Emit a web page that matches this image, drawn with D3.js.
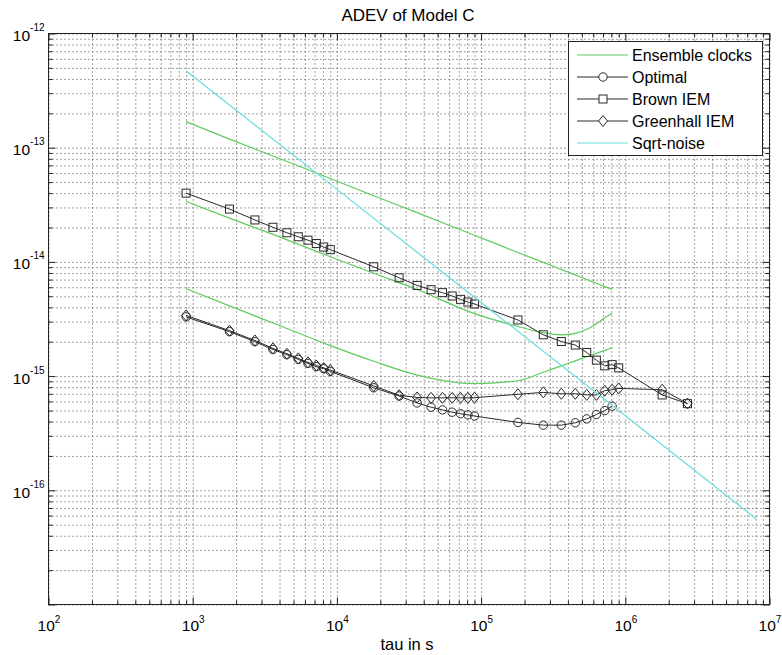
<!DOCTYPE html>
<html><head><meta charset="utf-8">
<script src="https://cdn.jsdelivr.net/npm/d3@7"></script>
<style>
body{margin:0;background:#fff}
text{font-family:"Liberation Sans",Arial,Helvetica,sans-serif;fill:#000}
</style>
</head><body>
<svg id="chart" width="782" height="655"></svg>
<script>
// ---------------- data ----------------
const tauIEM = [900,1800,2700,3600,4500,5400,6300,7200,8100,9000,
  18000,27000,36000,45000,54000,63000,72000,81000,90000,
  180000,270000,360000,450000,540000,630000,720000,810000,900000,1800000,2700000];
const brownIEM = [4.0e-14,2.9e-14,2.33e-14,2.01e-14,1.80e-14,1.66e-14,1.55e-14,1.45e-14,1.35e-14,1.28e-14,
  9.06e-15,7.26e-15,6.22e-15,5.71e-15,5.38e-15,5.03e-15,4.70e-15,4.45e-15,4.28e-15,
  3.10e-15,2.30e-15,2.01e-15,1.87e-15,1.61e-15,1.38e-15,1.23e-15,1.26e-15,1.18e-15,6.84e-16,5.74e-16];
const greenhallIEM = [3.4e-15,2.5e-15,2.05e-15,1.75e-15,1.57e-15,1.43e-15,1.32e-15,1.24e-15,1.18e-15,1.13e-15,
  8.2e-16,6.8e-16,6.5e-16,6.45e-16,6.45e-16,6.45e-16,6.45e-16,6.45e-16,6.47e-16,
  6.93e-16,7.2e-16,7.0e-16,7.0e-16,6.85e-16,6.85e-16,7.45e-16,7.6e-16,7.8e-16,7.6e-16,5.75e-16];
const tauOptimal = [900,1800,2700,3600,4500,5400,6300,7200,8100,9000,
  18000,27000,36000,45000,54000,63000,72000,81000,90000,
  180000,270000,360000,450000,540000,630000,720000,810000];
const optimal = [3.3e-15,2.45e-15,2.0e-15,1.71e-15,1.54e-15,1.40e-15,1.29e-15,1.21e-15,1.16e-15,1.10e-15,
  7.9e-16,6.7e-16,5.82e-16,5.34e-16,5.06e-16,4.83e-16,4.68e-16,4.58e-16,4.47e-16,
  3.93e-16,3.72e-16,3.72e-16,3.90e-16,4.22e-16,4.61e-16,4.99e-16,5.45e-16];
const tauEnsemble = [900,1800,3600,9000,18000,36000,90000,180000,270000,360000,450000,540000,630000,720000,810000];
const ensembleClock1 = [1.69e-13,1.19e-13,8.47e-14,5.37e-14,3.80e-14,2.70e-14,1.71e-14,1.21e-14,9.9e-15,8.59e-15,7.69e-15,7.02e-15,6.50e-15,6.08e-15,5.74e-15];
const ensembleClock2 = [3.38e-14,2.42e-14,1.74e-14,1.11e-14,7.96e-15,5.73e-15,3.52e-15,2.72e-15,2.40e-15,2.30e-15,2.37e-15,2.57e-15,2.88e-15,3.24e-15,3.55e-15];
const ensembleClock3 = [5.82e-15,4.12e-15,2.92e-15,1.85e-15,1.35e-15,1.02e-15,8.6e-16,9.1e-16,1.08e-15,1.23e-15,1.36e-15,1.48e-15,1.58e-15,1.68e-15,1.78e-15];
const tauSqrt = [900,9000,90000,900000,8100000];
const sqrtNoise = [4.7e-13,4.8e-14,4.9e-15,5.0e-16,5.6e-17];
const xTickExp = [2,3,4,5,6,7];
const yTickExp = [-12,-13,-14,-15,-16];
const legendLabels = ["Ensemble clocks","Optimal","Brown IEM","Greenhall IEM","Sqrt-noise"];
const chartTitle = "ADEV of Model C";
const xTitle = "tau in s";

// ---------------- layout ----------------
const svg = d3.select("#chart");
const L = 48.5, R = 769.5, T = 33.5, B = 604.5;
const x = d3.scaleLog().domain([1e2,1e7]).range([L,R]);
const y = d3.scaleLog().domain([1e-17,1e-12]).range([B,T]);
const GREEN = "#5ccc5c", CYAN = "#66dddd", DARK = "#2a2a2a";

svg.append("rect").attr("x",0).attr("y",0).attr("width",782).attr("height",655).attr("fill","#fff");

const majorX = xTickExp.map(e=>Math.pow(10,e));
const majorY = d3.range(-17,-11).map(e=>Math.pow(10,e));
const minorX = [], minorY = [];
for (let e=2;e<7;e++) for (let k=2;k<10;k++) minorX.push(k*Math.pow(10,e));
for (let e=-17;e<-12;e++) for (let k=2;k<10;k++) minorY.push(k*Math.pow(10,e));

// grid
function styleGrid(g){
  g.select(".domain").remove();
  g.selectAll("line").attr("stroke","#444").attr("stroke-width",1).attr("stroke-dasharray","1,3");
}
svg.append("g").attr("transform",`translate(0,${B})`)
  .call(d3.axisBottom(x).tickValues(majorX.concat(minorX)).tickSize(-(B-T)).tickFormat(""))
  .call(styleGrid);
svg.append("g").attr("transform",`translate(${L},0)`)
  .call(d3.axisLeft(y).tickValues(majorY.concat(minorY)).tickSize(-(R-L)).tickFormat(""))
  .call(styleGrid);

// ticks (inward, all four sides)
function styleTicks(g){ g.select(".domain").remove(); g.selectAll("line").attr("stroke","#222"); }
const tk = [
  [d3.axisBottom, x, `translate(0,${B})`],
  [d3.axisTop, x, `translate(0,${T})`],
  [d3.axisLeft, y, `translate(${L},0)`],
  [d3.axisRight, y, `translate(${R},0)`]
];
tk.forEach(([ax,sc,tr])=>{
  const isX = sc===x;
  svg.append("g").attr("transform",tr).call(ax(sc).tickValues(isX?majorX:majorY).tickSize(-7).tickFormat("")).call(styleTicks);
  svg.append("g").attr("transform",tr).call(ax(sc).tickValues(isX?minorX:minorY).tickSize(-4).tickFormat("")).call(styleTicks);
});

// box
svg.append("rect").attr("x",L).attr("y",T).attr("width",R-L).attr("height",B-T)
  .attr("fill","none").attr("stroke","#222").attr("stroke-width",1);

// tick labels
const xl = svg.append("g").attr("transform",`translate(0,${B})`)
  .call(d3.axisBottom(x).tickValues(majorX).tickSize(0).tickFormat(""));
xl.select(".domain").remove();
xl.selectAll(".tick").each(function(d){
  const t = d3.select(this).select("text").attr("y",26).attr("dy",null).attr("text-anchor","middle");
  t.append("tspan").attr("font-size","15.5px").text("10");
  t.append("tspan").attr("font-size","10px").attr("dy","-8").text(Math.round(Math.log10(d)));
});
const yl = svg.append("g").attr("transform",`translate(${L},0)`)
  .call(d3.axisLeft(y).tickValues(yTickExp.map(e=>Math.pow(10,e))).tickSize(0).tickFormat(""));
yl.select(".domain").remove();
yl.selectAll(".tick").each(function(d){
  const t = d3.select(this).select("text").attr("x",-4).attr("dy",null).attr("y",7).attr("text-anchor","end");
  t.append("tspan").attr("font-size","15.5px").text("10");
  t.append("tspan").attr("font-size","10px").attr("dy","-10").text(Math.round(Math.log10(d)));
});

// titles
svg.append("text").attr("x",408).attr("y",21).attr("text-anchor","middle").attr("font-size","17px").text(chartTitle);
svg.append("text").attr("x",407).attr("y",650).attr("text-anchor","middle").attr("font-size","16.5px").text(xTitle);

// series
const plot = svg.append("g");
const line = d3.line().x(d=>x(d[0])).y(d=>y(d[1]));
const smooth = d3.line().x(d=>x(d[0])).y(d=>y(d[1])).curve(d3.curveMonotoneX);
[ensembleClock1,ensembleClock2,ensembleClock3].forEach(s=>{
  plot.append("path").attr("d",smooth(d3.zip(tauEnsemble,s))).attr("fill","none").attr("stroke",GREEN).attr("stroke-width",1.2);
});

function markers(pts, shape){
  const g = plot.append("g");
  pts.forEach(p=>{
    const cx = x(p[0]), cy = y(p[1]);
    if (shape==="circle") g.append("circle").attr("cx",cx).attr("cy",cy).attr("r",4.2);
    else if (shape==="square") g.append("rect").attr("x",cx-4).attr("y",cy-4).attr("width",8).attr("height",8);
    else g.append("path").attr("d",`M${cx},${cy-5.5}L${cx+4.5},${cy}L${cx},${cy+5.5}L${cx-4.5},${cy}Z`);
  });
  g.selectAll("*").attr("fill","none").attr("stroke",DARK).attr("stroke-width",1);
}
const optPts = d3.zip(tauOptimal,optimal);
const brnPts = d3.zip(tauIEM,brownIEM);
const grnPts = d3.zip(tauIEM,greenhallIEM);
plot.append("path").attr("d",line(optPts)).attr("fill","none").attr("stroke",DARK).attr("stroke-width",1);
markers(optPts,"circle");
plot.append("path").attr("d",line(brnPts)).attr("fill","none").attr("stroke",DARK).attr("stroke-width",1);
markers(brnPts,"square");
plot.append("path").attr("d",line(grnPts)).attr("fill","none").attr("stroke",DARK).attr("stroke-width",1);
markers(grnPts,"diamond");
plot.append("path").attr("d",line(d3.zip(tauSqrt,sqrtNoise))).attr("fill","none").attr("stroke",CYAN).attr("stroke-width",1.2);

// legend
const lg = svg.append("g");
lg.append("rect").attr("x",568.5).attr("y",41.5).attr("width",194).attr("height",114)
  .attr("fill","#fff").attr("stroke","#222").attr("stroke-width",1);
const legStyles = [
  {c:GREEN,m:null},{c:DARK,m:"circle"},{c:DARK,m:"square"},{c:DARK,m:"diamond"},{c:CYAN,m:null}
];
legendLabels.forEach((lab,i)=>{
  const cy = 55 + i*22;
  lg.append("line").attr("x1",577).attr("x2",628).attr("y1",cy).attr("y2",cy).attr("stroke",legStyles[i].c).attr("stroke-width",1.2);
  const m = legStyles[i].m, cx = 603;
  if (m==="circle") lg.append("circle").attr("cx",cx).attr("cy",cy).attr("r",4.2).attr("fill","#fff").attr("stroke",DARK);
  if (m==="square") lg.append("rect").attr("x",cx-4).attr("y",cy-4).attr("width",8).attr("height",8).attr("fill","#fff").attr("stroke",DARK);
  if (m==="diamond") lg.append("path").attr("d",`M${cx},${cy-5.5}L${cx+4.5},${cy}L${cx},${cy+5.5}L${cx-4.5},${cy}Z`).attr("fill","#fff").attr("stroke",DARK);
  lg.append("text").attr("x",632).attr("y",cy+5.5).attr("font-size","16px").text(lab);
});
</script>
</body></html>
